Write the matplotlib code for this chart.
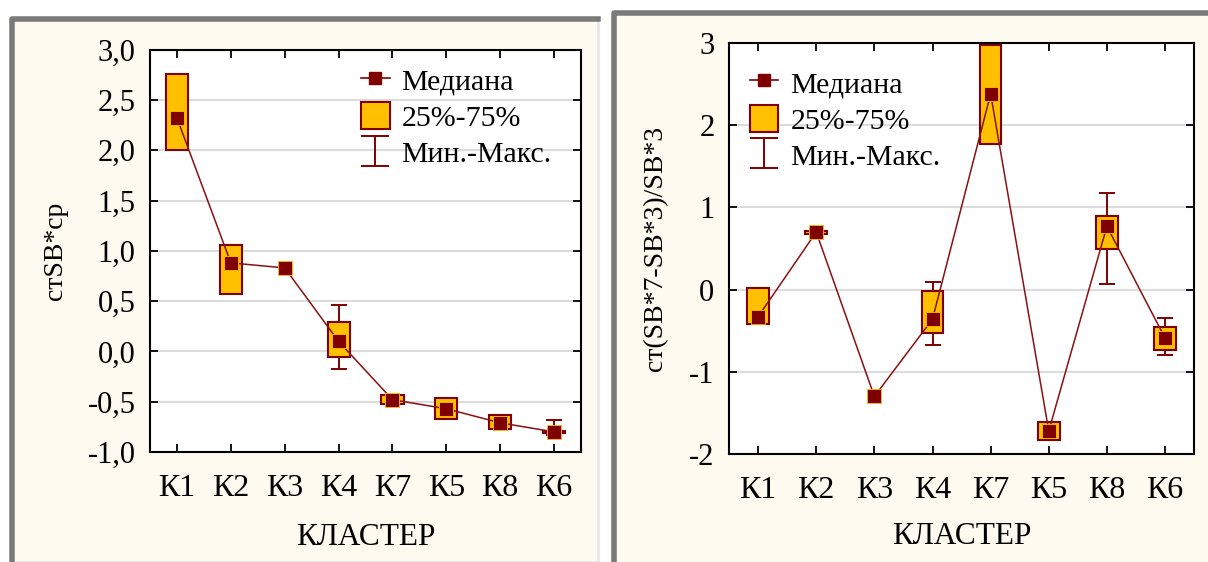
import matplotlib
matplotlib.use("Agg")
import matplotlib.pyplot as plt
from matplotlib.patches import Rectangle, Patch
from matplotlib.lines import Line2D
from matplotlib.path import Path
from matplotlib.ticker import FixedLocator

plt.rcParams['font.family'] = ['Liberation Serif', 'DejaVu Serif']
plt.rcParams['axes.unicode_minus'] = False

# clusters in plotting order
clusters = ['К1', 'К2', 'К3', 'К4', 'К7', 'К5', 'К8', 'К6']

# left chart: стSB*ср
med_l = [2.32, 0.88, 0.83, 0.10, -0.48, -0.57, -0.71, -0.80]
q1_l = [2.00, 0.57, 0.83, -0.06, -0.52, -0.67, -0.77, -0.81]
q3_l = [2.76, 1.06, 0.83, 0.29, -0.43, -0.46, -0.63, -0.79]
min_l = [2.00, 0.57, 0.83, -0.17, -0.52, -0.67, -0.77, -0.83]
max_l = [2.76, 1.06, 0.83, 0.46, -0.43, -0.46, -0.63, -0.68]

# right chart: ст(SB*7-SB*3)/SB*3
med_r = [-0.33, 0.70, -1.30, -0.36, 2.38, -1.72, 0.77, -0.59]
q1_r = [-0.42, 0.68, -1.30, -0.53, 1.77, -1.83, 0.49, -0.74]
q3_r = [0.02, 0.71, -1.30, -0.02, 2.97, -1.61, 0.89, -0.46]
min_r = [-0.42, 0.68, -1.30, -0.67, 1.77, -1.83, 0.07, -0.79]
max_r = [0.02, 0.71, -1.30, 0.09, 2.97, -1.61, 1.17, -0.34]

yticks_l = [-1.0, -0.5, 0.0, 0.5, 1.0, 1.5, 2.0, 2.5, 3.0]
yticks_r = [-2, -1, 0, 1, 2, 3]

RED = '#7f0000'
LINE = '#8b1010'
BOX = '#ffc000'
CREAM = '#fffaef'

fig = plt.figure(figsize=(12.08, 5.62), dpi=100)

# panel frames (window-like look), kept behind the axes
def panel(x0, y0, x1, y1):
    W, H = 1208, 562
    fig.patches.append(Rectangle((x0 / W, 1 - y1 / H), (x1 - x0) / W, (y1 - y0) / H,
                                 transform=fig.transFigure, facecolor=CREAM,
                                 edgecolor='#e6e6e6', lw=2, zorder=-3))
    fig.lines.append(Line2D([x0 / W, x0 / W, x1 / W], [1 - y1 / H, 1 - y0 / H, 1 - y0 / H],
                            transform=fig.transFigure, color='#7a7a7a', lw=4, zorder=-2))

panel(12, 19, 598, 562)
panel(614, 13, 1212, 566)

# custom whisker marker for the legend
wpath = Path([(-0.9, 1), (0.9, 1), (0, 1), (0, -1), (-0.9, -1), (0.9, -1)],
             [Path.MOVETO, Path.LINETO, Path.MOVETO, Path.LINETO, Path.MOVETO, Path.LINETO])


def draw(ax, med, q1, q3, lo, hi, boxw, yticks, fmt, ylabel, ylpad, xlpad, leg_xy):
    x = list(range(len(clusters)))
    ax.set_facecolor('white')
    # whiskers and boxes only where they have extent
    w = [i for i in x if hi[i] > lo[i]]
    ax.errorbar(w, [med[i] for i in w],
                yerr=[[med[i] - lo[i] for i in w], [hi[i] - med[i] for i in w]],
                fmt='none', ecolor=RED, elinewidth=1.4, capsize=6, capthick=1.4, zorder=2)
    b = [i for i in x if q3[i] > q1[i]]
    ax.bar(b, [q3[i] - q1[i] for i in b], bottom=[q1[i] for i in b], width=boxw,
           color=BOX, edgecolor=RED, linewidth=1.5, zorder=3)
    ax.plot(x, med, color=LINE, lw=1.1, zorder=4)
    ax.plot(x, med, ls='none', marker='s', ms=10, color=RED, mec=BOX, mew=0.6, zorder=5)

    ax.set_xlim(-0.5, 7.5)
    ax.set_ylim(yticks[0], yticks[-1])
    ax.set_xticks(x)
    ax.set_xticklabels(clusters, fontsize=23)
    ax.yaxis.set_major_locator(FixedLocator(yticks))
    ax.set_yticklabels([fmt(v) for v in yticks], fontsize=22)
    ax.grid(axis='y', color='#dcdcdc', lw=1.5, zorder=0)
    ax.set_axisbelow(True)
    ax.tick_params(direction='in', length=6, width=1.3, top=True, right=True)
    ax.tick_params(axis='y', pad=10.5)
    ax.tick_params(axis='x', pad=16)
    for s in ax.spines.values():
        s.set_linewidth(1.5)
    ax.set_xlabel('КЛАСТЕР', fontsize=22.5, labelpad=xlpad)
    ax.set_ylabel(ylabel, fontsize=20, labelpad=ylpad)

    handles = [
        Line2D([], [], color=RED, lw=1.2, marker='s', ms=9, mec=RED),
        Patch(facecolor=BOX, edgecolor=RED, lw=1.5),
        Line2D([], [], ls='none', marker=wpath, ms=22, mfc='none', mec=RED, mew=1.4),
    ]
    ax.legend(handles, ['Медиана', '25%-75%', 'Мин.-Макс.'], loc='upper left',
              bbox_to_anchor=leg_xy, frameon=False, fontsize=21.5, borderpad=0,
              borderaxespad=0, handlelength=0.95, handleheight=1.03, labelspacing=0.22,
              handletextpad=0.4, numpoints=1)


ax1 = fig.add_axes([0.1242, 0.1957, 0.3568, 0.716])
draw(ax1, med_l, q1_l, q3_l, min_l, max_l, 0.41, yticks_l,
     lambda v: f'{v:.1f}'.replace('.', ','), 'стSB*ср', 14, 14, (0.49, 0.96))

ax2 = fig.add_axes([0.6035, 0.1922, 0.385, 0.7313])
draw(ax2, med_r, q1_r, q3_r, min_r, max_r, 0.37, yticks_r,
     lambda v: f'{v:d}', 'ст(SB*7-SB*3)/SB*3', 15, 12, (0.045, 0.938))

fig.savefig('out.png', dpi=100)
